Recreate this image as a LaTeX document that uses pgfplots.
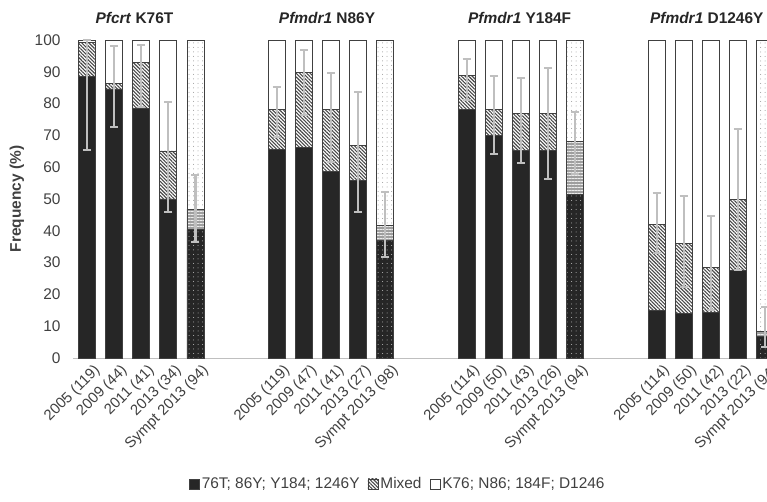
\documentclass[border=0pt]{standalone}
\usepackage{fontspec}
\setmainfont{Liberation Sans}
\usepackage{pgfplots}
\pgfplotsset{compat=1.18}
\usepackage{pgfplotstable}
\usetikzlibrary{patterns.meta}

\definecolor{barblack}{HTML}{262626}
\definecolor{edge}{HTML}{404040}
\definecolor{errgray}{HTML}{BFBFBF}
\definecolor{txt}{HTML}{404040}

\pgfplotstableread{
x A B C D E F
0 88.5 10.8 0.7 0 0 0
1 84.6 1.8 13.6 0 0 0
2 78.5 14.5 7.0 0 0 0
3 50.0 15.1 34.9 0 0 0
4 0 0 0 40.3 6.5 53.2
7 65.7 12.6 21.7 0 0 0
8 66.1 23.6 10.3 0 0 0
9 58.8 19.5 21.7 0 0 0
10 55.7 11.1 33.2 0 0 0
11 0 0 0 37.1 4.5 58.4
14 78.3 10.5 11.2 0 0 0
15 70.1 8.2 21.7 0 0 0
16 65.4 11.5 23.1 0 0 0
17 65.4 11.5 23.1 0 0 0
18 0 0 0 51.3 16.7 32.0
21 14.9 27.2 57.9 0 0 0
22 14.0 22.1 63.9 0 0 0
23 14.3 14.2 71.5 0 0 0
24 27.5 22.4 50.1 0 0 0
25 0 0 0 6.7 1.6 91.7
}\bars

\pgfplotstableread{
x c e
0 82.7 17.3
1 85.4 12.7
2 88.6 9.8
3 63.3 17.3
4 46.95 10.55
7 77.45 7.85
8 86.65 10.25
9 75.7 14.0
10 64.75 18.75
11 42.0 10.3
14 87.55 6.45
15 76.3 12.3
16 74.7 13.5
17 73.7 17.4
18 67.65 9.75
21 42.4 9.4
22 36.65 14.25
23 29.95 14.85
24 49.8 22.1
25 9.85 6.25
}\errs

\begin{document}
\begin{tikzpicture}
\useasboundingbox (-73bp,-144bp) rectangle (694bp,358bp);
\begin{axis}[
  at={(0,0)}, anchor=south west,
  scale only axis, width=694bp, height=318bp,
  ybar stacked, bar width=0.627,
  xmin=-0.516, xmax=25.07, ymin=0, ymax=100,
  axis x line*=bottom, axis y line*=left,
  x axis line style={draw=errgray, line width=1pt},
  y axis line style={draw=none},
  xtick={0,1,2,3,4,7,8,9,10,11,14,15,16,17,18,21,22,23,24,25},
  xticklabels={2005 (119),2009 (44),2011 (41),2013 (34),Sympt 2013 (94),
    2005 (119),2009 (47),2011 (41),2013 (27),Sympt 2013 (98),
    2005 (114),2009 (50),2011 (43),2013 (26),Sympt 2013 (94),
    2005 (114),2009 (50),2011 (42),2013 (22),Sympt 2013 (94)},
  ytick={0,10,...,100},
  major tick length=0pt,
  tick style={draw=none},
  /pgf/number format/assume math mode=true,
  yticklabel style={font=\fontsize{15.5}{18}\selectfont, text=txt, xshift=-9bp},
  xticklabel style={font=\fontsize{15}{18}\selectfont, text=txt, rotate=45, anchor=east, xshift=3.5bp, yshift=-15bp},
  ylabel={\textbf{Frequency (\%)}},
  ylabel style={font=\fontsize{15.5}{18}\selectfont, text=txt, at={(axis description cs:-0.0656,0.5)}, anchor=south},
  legend style={draw=none, fill=none, legend columns=3, at={(0.468,-0.396)}, anchor=center,
    font=\fontsize{15.5}{18}\selectfont, text=txt, inner sep=0pt,
    /tikz/every even column/.append style={column sep=6bp}},
  legend image code/.code={\draw[#1] (0bp,-5bp) rectangle (10bp,5bp);},
]
\addplot[fill=barblack, draw=edge, line width=0.8pt] table[x=x,y=A]{\bars};
\addlegendentry{76T; 86Y; Y184; 1246Y}
\addplot[draw=edge, line width=0.8pt, pattern={Lines[angle=-45,distance=2.5bp,line width=1.1bp]}, pattern color=black!72] table[x=x,y=B]{\bars};
\addlegendentry{Mixed}
\addplot[fill=white, draw=edge, line width=0.8pt] table[x=x,y=C]{\bars};
\addlegendentry{K76; N86; 184F; D1246}
\addplot[forget plot, fill=barblack, draw=edge, line width=0.8pt, postaction={pattern={Dots[radius=0.5bp,distance=4.5bp]}, pattern color=white!75!black}] table[x=x,y=D]{\bars};
\addplot[forget plot, fill=gray!75, draw=edge, line width=0.8pt, postaction={pattern={Lines[angle=0,distance=3bp,line width=0.8bp]}, pattern color=white!85!gray}] table[x=x,y=E]{\bars};
\addplot[forget plot, fill=white, draw=edge, line width=0.8pt, postaction={pattern={Dots[radius=0.5bp,distance=4.5bp]}, pattern color=gray!80}] table[x=x,y=F]{\bars};
\end{axis}
\begin{axis}[
  at={(0,0)}, anchor=south west,
  scale only axis, width=694bp, height=318bp,
  xmin=-0.516, xmax=25.07, ymin=0, ymax=100,
  hide axis, clip=false,
]
\addplot[draw=none, mark=none, error bars/.cd, y dir=both, y explicit,
  error bar style={draw=errgray, line width=2.2bp},
  error mark options={draw=errgray, line width=2bp, mark size=4bp, rotate=90}]
  table[x=x, y=c, y error=e]{\errs};
\node[font=\fontsize{15.5}{18}\selectfont\bfseries, text=black!85, anchor=base] at (axis cs:1.75,100) [yshift=16bp] {\textit{Pfcrt} K76T};
\node[font=\fontsize{15.5}{18}\selectfont\bfseries, text=black!85, anchor=base] at (axis cs:8.85,100) [yshift=16bp] {\textit{Pfmdr1} N86Y};
\node[font=\fontsize{15.5}{18}\selectfont\bfseries, text=black!85, anchor=base] at (axis cs:15.95,100) [yshift=16bp] {\textit{Pfmdr1} Y184F};
\node[font=\fontsize{15.5}{18}\selectfont\bfseries, text=black!85, anchor=base] at (axis cs:22.85,100) [yshift=16bp] {\textit{Pfmdr1} D1246Y};
\end{axis}
\end{tikzpicture}
\end{document}
